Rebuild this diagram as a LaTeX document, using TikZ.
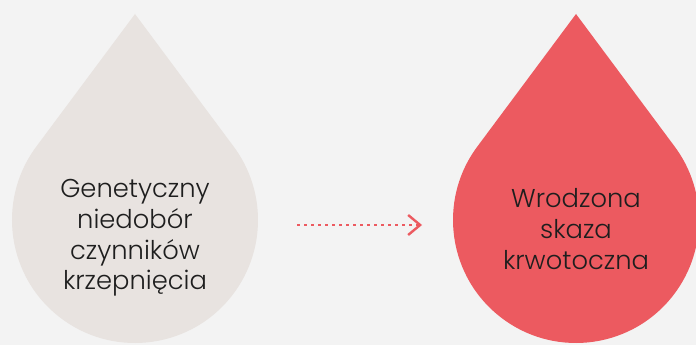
\documentclass[tikz,border=0pt]{standalone}
\usepackage{fontspec}
\setmainfont{Poppins}[UprightFont=* Light]
\usetikzlibrary{arrows.meta,calc}
\definecolor{bg}{HTML}{F3F3F3}
\definecolor{dropgray}{HTML}{E8E3E0}
\definecolor{dropred}{HTML}{EC5A60}
\definecolor{txt}{HTML}{1E1E1E}
\tikzset{
  drop/.style={draw=none},
  droptext/.style={align=center, text=txt, font=\fontsize{25.8}{30.7}\selectfont, inner sep=0pt},
  dotarrow/.style={draw=dropred, line width=2.5pt, dash pattern=on 2.5pt off 4.5pt,
    -{Straight Barb[length=12pt,width=20pt,line width=2.4pt]}}
}
\begin{document}
\begin{tikzpicture}[x=1pt,y=1pt]
\fill[bg] (0,0) rectangle (696,345);
\useasboundingbox (0,0) rectangle (696,345);
% left drop
\fill[dropgray] (135,331) -- ($(135,125)+(143.3:123)$) arc[start angle=143.3, end angle=396.7, radius=123] -- cycle;
% right drop
\fill[dropred] (576,331) -- ($(576,125)+(143.3:123)$) arc[start angle=143.3, end angle=396.7, radius=123] -- cycle;
\node[droptext] (lt) at (135,107) {Genetyczny\\niedobór\\czynników\\krzepnięcia};
\node[droptext] (rt) at (576,116) {Wrodzona\\skaza\\krwotoczna};
\coordinate (a1) at (297,120);
\coordinate (a2) at (422,120);
\draw[dotarrow] (a1) -- (a2);
\end{tikzpicture}
\end{document}
